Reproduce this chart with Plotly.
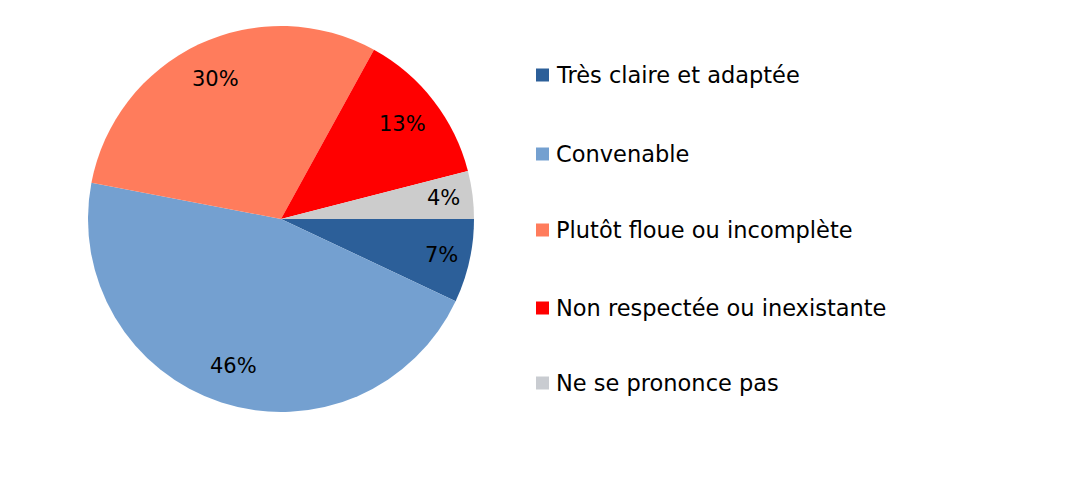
import math
import plotly.graph_objects as go

labels = ["Très claire et adaptée", "Convenable", "Plutôt floue ou incomplète",
          "Non respectée ou inexistante", "Ne se prononce pas"]
values = [7, 46, 30, 13, 4]
slice_colors = ["#2C5F99", "#74A0D0", "#FF7C5C", "#FF0000", "#CCCCCC"]
legend_colors = ["#2C5F99", "#74A0D0", "#FF7C5C", "#FF0000", "#C9CCD1"]
pct_texts = ["7%", "46%", "30%", "13%", "4%"]

W, H = 1080, 503
OFF = 8  # page body margin
cx, cy, R = 281 - OFF, 219 - OFF, 193  # pie centre / radius in px (figure coords)
dom_x = [(cx - R) / W, (cx + R) / W]
dom_y = [1 - (cy + R) / H, 1 - (cy - R) / H]

FONT = "DejaVu Sans"

fig = go.Figure()
fig.add_trace(go.Pie(
    labels=labels, values=values, sort=False, direction="clockwise", rotation=90,
    marker=dict(colors=slice_colors, line=dict(width=0)),
    textinfo="none", hoverinfo="label+percent", showlegend=False,
    domain=dict(x=dom_x, y=dom_y),
))

# percentage labels placed along slice mid-angles derived from the values
total = sum(values)
cum = 0
radial = [0.85, 0.8, 0.8, 0.8, 0.85]
annotations = []
for v, t, rf in zip(values, pct_texts, radial):
    mid = (cum + v / 2) / total * 2 * math.pi  # clockwise from east
    cum += v
    px = cx + rf * R * math.cos(mid)
    py = cy + rf * R * math.sin(mid)
    annotations.append(dict(x=px / W, y=1 - py / H, xref="paper", yref="paper",
                            text=t, showarrow=False, xanchor="center", yanchor="middle",
                            font=dict(family=FONT, size=21, color="#000000")))

# legend built as squares + text
shapes = []
leg_x0 = 536 - OFF
leg_y = [y - OFF for y in [75, 154, 230, 308, 383]]
sq = 13
for lab, col, ly in zip(labels, legend_colors, leg_y):
    shapes.append(dict(type="rect", xref="paper", yref="paper",
                       x0=leg_x0 / W, x1=(leg_x0 + sq) / W,
                       y0=1 - (ly + sq / 2) / H, y1=1 - (ly - sq / 2) / H,
                       fillcolor=col, line=dict(width=0)))
    annotations.append(dict(x=(leg_x0 + sq + 5) / W, y=1 - ly / H, xref="paper", yref="paper",
                            text=lab, showarrow=False, xanchor="left", yanchor="middle",
                            font=dict(family=FONT, size=22.5, color="#000000")))

fig.update_layout(
    width=W, height=H, margin=dict(l=0, r=0, t=0, b=0),
    paper_bgcolor="white", plot_bgcolor="white",
    annotations=annotations, shapes=shapes,
)
fig.write_html("out.html")
